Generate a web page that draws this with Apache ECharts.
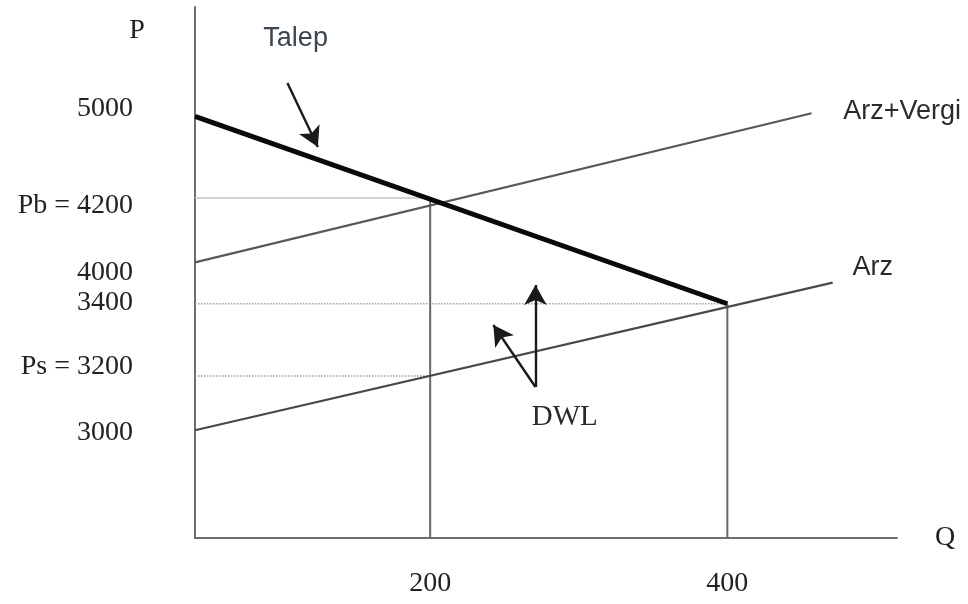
<!DOCTYPE html>
<html>
<head>
<meta charset="utf-8">
<script src="https://cdn.jsdelivr.net/npm/echarts@6/dist/echarts.min.js"></script>
<style>
html,body{margin:0;padding:0;background:#fff;}
#chart{width:968px;height:604px;}
</style>
</head>
<body>
<div id="chart"></div>
<script>
// Schematic diagram: values are read in the drawing's own (hand-drawn) scale
const qTickValues = [201, 455];
const qTickLabels = ['200', '400'];
const pTickValues = [5050, 4430, 4000, 3810, 3395, 2975];
const pTickLabels = ['5000', 'Pb = 4200', '4000', '3400', 'Ps = 3200', '3000'];

const demand = [[0, 5000], [455, 3800]];        // Talep
const supplyTax = [[0, 4065], [527, 5020]];     // Arz+Vergi
const supply = [[0, 2990], [545, 3935]];        // Arz

const pbGuide = [[0, 4477], [201, 4477]];
const psGuide = [[0, 3337], [201, 3337]];
const p3400Guide = [[0, 3800], [455, 3800]];
const q200Guide = [[201, 4462], [201, 2300]];
const q400Guide = [[455, 3800], [455, 2300]];

const arrowTalep = [[79, 5213], [105, 4803]];
const arrowDwlUp = [[291, 3267], [291, 3920]];
const arrowDwlDiag = [[291, 3267], [255, 3664]];

const annoText = ['Talep', 'Arz+Vergi', 'Arz', 'DWL'];
const annoX = [86, 554, 562, 316];
const annoY = [5501, 5028, 4029, 3075];

const sans = 'Liberation Sans';
const serif = 'Liberation Serif';

const chart = echarts.init(document.getElementById('chart'));

function guide(data, color, width, type) {
  return {
    type: 'line', data: data, symbol: 'none', silent: true, animation: false,
    lineStyle: { color: color, width: width, type: type }, z: 1
  };
}

const annoStyles = [
  { fontFamily: sans, color: '#3a4652', align: 'center', size: 27 },
  { fontFamily: sans, color: '#2a2a2a', align: 'left', size: 27 },
  { fontFamily: sans, color: '#2a2a2a', align: 'left', size: 27 },
  { fontFamily: serif, color: '#2a2a2a', align: 'center', size: 29 }
];

chart.setOption({
  animation: false,
  grid: { left: 195, right: 71, top: 7, bottom: 66 },
  xAxis: {
    type: 'value', min: 0, max: 600,
    name: 'Q', nameLocation: 'end', nameGap: 38,
    nameTextStyle: { fontFamily: serif, fontSize: 28, color: '#222', padding: [10, 0, 0, 0] },
    axisLine: { show: true, lineStyle: { color: '#6e6e6e', width: 2 } },
    axisTick: { show: false },
    splitLine: { show: false },
    axisLabel: {
      customValues: qTickValues,
      margin: 32,
      fontFamily: serif, fontSize: 28, color: '#222',
      formatter: function (v) { const i = qTickValues.indexOf(v); return i >= 0 ? qTickLabels[i] : ''; }
    }
  },
  yAxis: {
    type: 'value', min: 2300, max: 5700,
    name: 'P', nameLocation: 'end', nameGap: -38,
    nameTextStyle: { fontFamily: serif, fontSize: 28, color: '#222', padding: [0, 116, 0, 0] },
    axisLine: { show: true, lineStyle: { color: '#6e6e6e', width: 2 } },
    axisTick: { show: false },
    splitLine: { show: false },
    axisLabel: {
      customValues: pTickValues,
      margin: 62,
      fontFamily: serif, fontSize: 28, color: '#222',
      formatter: function (v) { const i = pTickValues.indexOf(v); return i >= 0 ? pTickLabels[i] : ''; }
    }
  },
  series: [
    guide(pbGuide, '#c4c4c4', 1.5, 'solid'),
    guide(psGuide, '#a0a0a0', 1.5, 'dotted'),
    guide(p3400Guide, '#a0a0a0', 1.5, 'dotted'),
    guide(q200Guide, '#666', 2, 'solid'),
    guide(q400Guide, '#666', 2, 'solid'),
    {
      type: 'line', name: 'Arz+Vergi', data: supplyTax, symbol: 'none', silent: true,
      lineStyle: { color: '#585858', width: 2.2 }, z: 2
    },
    {
      type: 'line', name: 'Arz', data: supply, symbol: 'none', silent: true,
      lineStyle: { color: '#484848', width: 2.2 }, z: 2
    },
    {
      type: 'line', name: 'Talep', data: demand, symbol: 'none', silent: true,
      lineStyle: { color: '#0a0a0a', width: 5 }, z: 3,
      markLine: {
        silent: true, animation: false,
        symbol: ['none', 'arrow'], symbolSize: [17, 20],
        label: { show: false },
        lineStyle: { color: '#1a1a1a', width: 2.4, type: 'solid' },
        data: [
          [{ coord: arrowTalep[0] }, { coord: arrowTalep[1] }],
          [{ coord: arrowDwlUp[0] }, { coord: arrowDwlUp[1] }],
          [{ coord: arrowDwlDiag[0] }, { coord: arrowDwlDiag[1] }]
        ]
      }
    },
    {
      type: 'scatter', symbolSize: 0, silent: true, z: 5,
      itemStyle: { opacity: 1 },
      data: annoText.map(function (t, i) {
        return {
          value: [annoX[i], annoY[i]], name: t,
          label: {
            show: true, position: 'inside', formatter: t, opacity: 1,
            fontSize: annoStyles[i].size, fontFamily: annoStyles[i].fontFamily,
            color: annoStyles[i].color, align: annoStyles[i].align, verticalAlign: 'middle'
          }
        };
      })
    }
  ]
});
</script>
</body>
</html>
